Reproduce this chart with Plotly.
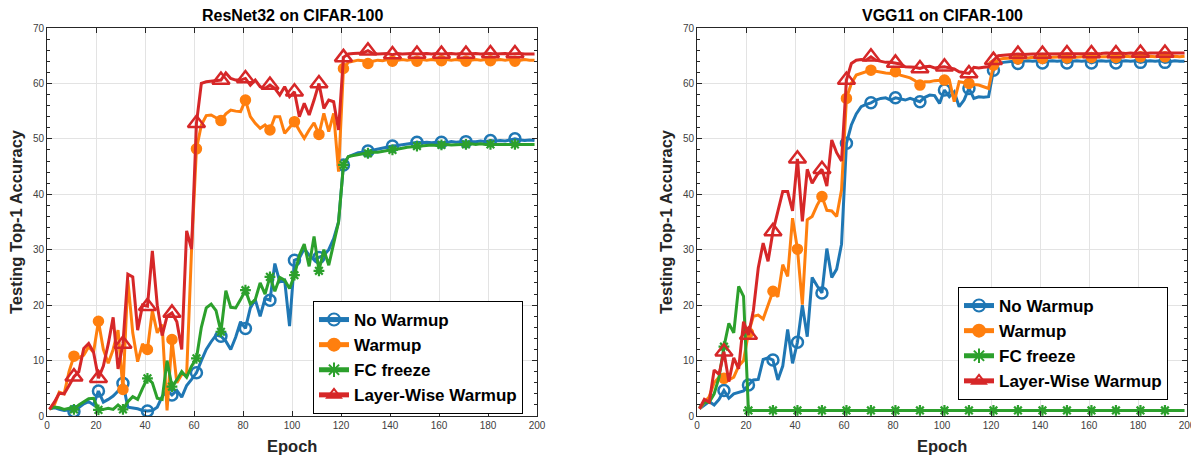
import plotly.graph_objects as go

# ---------------- data (odd epochs 1..199) ----------------
EPOCHS = list(range(1, 200, 2))
SERIES_NAMES = ["No Warmup", "Warmup", "FC freeze", "Layer-Wise Warmup"]
TITLES = ["ResNet32 on CIFAR-100", "VGG11 on CIFAR-100"]
X_TICKS = [0, 20, 40, 60, 80, 100, 120, 140, 160, 180, 200]
Y_TICKS = [0, 10, 20, 30, 40, 50, 60, 70]

# ResNet32
res_no_warmup = [
    1.3, 1.5, 1.2, 1.0, 1.1, 0.8, 1.5, 2.2, 2.6, 2.0,
    4.5, 2.5, 3.0, 3.6, 4.5, 5.9, 1.6, 1.5, 1.3, 1.0,
    0.9, 1.0, 1.6, 3.5, 4.6, 3.8, 4.6, 3.4, 5.5, 6.6,
    7.8, 10.0, 12.0, 13.4, 14.6, 14.4, 13.5, 12.0, 14.2, 17.0,
    15.8, 19.5, 21.0, 18.0, 21.2, 20.9, 27.5, 24.2, 24.5, 16.2,
    28.1, 28.5, 30.2, 29.0, 28.2, 28.6, 29.0, 30.0, 32.0, 35.0,
    45.3, 46.8, 47.2, 47.5, 47.6, 47.8, 48.0, 48.2, 48.3, 48.5,
    48.7, 48.8, 48.9, 49.1, 49.2, 49.4, 49.3, 49.4, 49.3, 49.4,
    49.4, 49.3, 49.5, 49.4, 49.5, 49.5, 49.4, 49.5, 49.6, 49.5,
    49.7, 49.6, 49.7, 49.6, 49.8, 50.0, 49.8, 49.7, 49.8, 49.7,
]
res_warmup = [
    1.2, 2.0, 4.3, 4.0, 8.0, 10.8, 10.5, 11.0, 12.5, 11.5,
    17.1, 12.0, 9.5, 12.0, 15.5, 4.8, 24.5, 15.0, 9.8, 13.0,
    12.0, 19.0, 15.0, 16.5, 1.0, 13.8, 6.0, 7.5, 7.5, 30.0,
    48.2, 52.5, 54.2, 54.3, 53.8, 53.3, 54.5, 55.2, 55.0, 54.9,
    57.0, 54.0, 52.8, 51.9, 52.5, 51.6, 54.0, 54.0, 51.0, 52.0,
    53.1, 51.5, 50.1, 51.6, 52.9, 50.8, 54.6, 51.3, 54.6, 44.1,
    62.7, 63.8, 64.0, 64.2, 64.1, 63.6, 64.0, 64.2, 64.1, 64.3,
    64.0, 64.2, 64.3, 64.2, 64.3, 64.0, 64.3, 64.2, 64.3, 64.2,
    64.1, 64.3, 64.2, 64.3, 64.2, 64.0, 64.2, 64.3, 64.2, 64.3,
    64.1, 64.2, 64.3, 64.2, 64.3, 64.0, 64.2, 64.3, 64.2, 64.2,
]
res_fc_freeze = [
    1.3, 1.6, 1.5, 1.2, 1.4, 1.2, 2.0, 2.6, 3.1, 3.2,
    1.1, 1.2, 1.4, 1.2, 2.0, 1.2, 2.6, 3.5, 3.0, 5.0,
    6.8, 6.0, 3.2, 3.0, 10.0, 5.3, 6.5, 8.0, 7.0, 9.0,
    10.4, 16.0, 19.5, 20.2, 19.0, 15.2, 22.6, 19.6, 19.5, 21.0,
    22.7, 20.2, 21.0, 24.0, 22.0, 25.1, 22.5, 25.0, 24.5, 23.0,
    25.4, 29.0, 31.0, 27.0, 32.4, 26.2, 30.0, 27.2, 31.0, 35.0,
    45.3, 46.8, 47.0, 47.2, 47.3, 47.4, 47.6, 47.6, 47.8, 47.9,
    48.0, 48.1, 48.3, 48.5, 48.6, 48.7, 48.8, 48.8, 48.9, 48.8,
    48.9, 49.0, 48.9, 49.0, 49.0, 49.0, 49.1, 49.0, 49.1, 49.0,
    49.0, 49.1, 49.0, 49.1, 49.1, 49.0, 49.1, 49.0, 49.1, 49.0,
]
res_layerwise = [
    1.2, 2.5, 4.1, 4.0, 5.5, 7.1, 8.0, 12.2, 13.1, 11.5,
    6.8, 9.0, 13.0, 17.8, 8.5, 13.0, 25.6, 25.1, 15.5, 20.0,
    19.8, 29.8, 20.0, 14.5, 18.0, 18.6, 17.0, 12.0, 33.4, 30.1,
    52.8, 60.0, 60.3, 60.4, 60.6, 60.6, 61.9, 60.9, 60.6, 60.6,
    60.9, 59.7, 60.6, 59.4, 59.1, 59.7, 59.1, 57.9, 59.4, 57.6,
    58.5, 54.0, 56.4, 54.3, 57.0, 60.0, 55.5, 57.0, 56.7, 51.6,
    64.7, 65.3, 65.4, 65.4, 65.5, 65.9, 65.4, 65.3, 65.4, 65.4,
    65.2, 65.4, 65.3, 65.4, 65.4, 65.3, 65.4, 65.4, 65.3, 65.4,
    65.3, 65.4, 65.4, 65.3, 65.4, 65.3, 65.4, 65.4, 65.3, 65.4,
    65.4, 65.3, 65.4, 65.4, 65.3, 65.4, 65.4, 65.3, 65.3, 65.3,
]

# VGG11
vgg_no_warmup = [
    1.3, 2.0, 2.6, 2.0, 3.0, 4.6, 3.2, 4.0, 4.2, 4.5,
    5.6, 6.5, 6.6, 10.2, 10.5, 10.1, 6.5, 9.0, 15.6, 9.5,
    13.3, 20.0, 14.3, 25.0, 23.5, 22.2, 30.2, 25.0, 26.5, 31.0,
    49.2, 52.5, 54.5, 55.8, 56.2, 56.5, 57.0, 57.3, 57.4, 57.0,
    57.4, 57.2, 57.0, 57.3, 57.0, 56.7, 57.5, 57.9, 57.8, 56.4,
    58.8, 57.6, 58.5, 55.8, 57.0, 59.1, 57.3, 57.6, 57.5, 57.6,
    62.4, 63.5, 63.8, 63.9, 64.0, 63.6, 64.0, 64.1, 64.0, 64.1,
    63.7, 64.0, 64.1, 64.0, 64.1, 63.7, 64.0, 64.1, 64.0, 64.1,
    63.7, 64.0, 64.1, 64.0, 64.1, 63.7, 64.0, 64.1, 64.0, 64.1,
    63.8, 64.0, 64.1, 64.0, 64.1, 63.8, 64.0, 64.1, 64.0, 64.0,
]
vgg_warmup = [
    1.3, 2.5, 3.5, 6.0, 7.0, 6.8, 6.5, 7.0, 9.0, 10.0,
    15.0, 18.0, 18.2, 17.5, 20.0, 22.5, 21.5, 27.3, 25.2, 35.7,
    30.1, 20.1, 35.4, 36.0, 38.0, 39.6, 37.1, 37.0, 36.0, 40.8,
    57.3, 60.0, 61.5, 61.8, 62.0, 62.4, 62.2, 62.0, 61.9, 61.8,
    62.1, 61.5, 61.2, 61.0, 60.5, 59.7, 60.3, 60.3, 60.5, 60.6,
    60.6, 60.6, 56.7, 60.3, 60.2, 60.0, 59.8, 59.7, 59.4, 59.1,
    63.3, 64.3, 64.5, 64.5, 64.6, 64.4, 64.6, 64.6, 64.7, 64.6,
    64.5, 64.7, 64.7, 64.7, 64.8, 64.6, 64.7, 64.8, 64.8, 64.8,
    64.7, 64.8, 64.8, 64.9, 64.8, 64.7, 64.8, 64.9, 64.8, 64.9,
    64.8, 64.9, 64.9, 64.8, 64.9, 64.8, 64.9, 64.9, 64.8, 64.9,
]
vgg_fc_freeze = [
    1.5, 2.5, 2.5, 4.0, 7.0, 12.5, 16.7, 15.0, 23.4, 21.6,
    1.0, 1.0, 1.0, 1.0, 1.0, 1.0, 1.0, 1.0, 1.0, 1.0,
    1.0, 1.0, 1.0, 1.0, 1.0, 1.0, 1.0, 1.0, 1.0, 1.0,
    1.0, 1.0, 1.0, 1.0, 1.0, 1.0, 1.0, 1.0, 1.0, 1.0,
    1.0, 1.0, 1.0, 1.0, 1.0, 1.0, 1.0, 1.0, 1.0, 1.0,
    1.0, 1.0, 1.0, 1.0, 1.0, 1.0, 1.0, 1.0, 1.0, 1.0,
    1.0, 1.0, 1.0, 1.0, 1.0, 1.0, 1.0, 1.0, 1.0, 1.0,
    1.0, 1.0, 1.0, 1.0, 1.0, 1.0, 1.0, 1.0, 1.0, 1.0,
    1.0, 1.0, 1.0, 1.0, 1.0, 1.0, 1.0, 1.0, 1.0, 1.0,
    1.0, 1.0, 1.0, 1.0, 1.0, 1.0, 1.0, 1.0, 1.0, 1.0,
]
vgg_layerwise = [
    1.3, 3.0, 2.5, 8.3, 7.5, 11.6, 6.2, 10.5, 8.5, 17.0,
    14.6, 19.0, 26.7, 31.2, 27.9, 33.3, 36.9, 40.5, 40.5, 37.0,
    46.4, 35.1, 44.5, 42.0, 43.5, 44.5, 41.5, 49.8, 47.5, 46.0,
    60.6, 63.6, 64.2, 64.3, 64.2, 64.8, 64.2, 64.0, 63.8, 63.8,
    63.7, 63.5, 63.0, 63.0, 62.9, 62.7, 63.0, 63.1, 62.8, 62.9,
    63.0, 62.8, 62.6, 62.1, 62.0, 61.8, 62.9, 62.8, 62.9, 63.0,
    64.2, 65.0, 65.1, 65.2, 65.2, 65.3, 65.2, 65.3, 65.3, 65.3,
    65.3, 65.3, 65.4, 65.3, 65.4, 65.4, 65.3, 65.4, 65.4, 65.4,
    65.4, 65.4, 65.4, 65.5, 65.4, 65.4, 65.5, 65.4, 65.5, 65.4,
    65.5, 65.4, 65.5, 65.5, 65.4, 65.5, 65.5, 65.4, 65.5, 65.5,
]

RESNET = [res_no_warmup, res_warmup, res_fc_freeze, res_layerwise]
VGG = [vgg_no_warmup, vgg_warmup, vgg_fc_freeze, vgg_layerwise]

# ---------------- styling ----------------
FONT = "Liberation Sans, Arial, Helvetica, sans-serif"
COLORS = ["#1f77b4", "#ff7f0e", "#2ca02c", "#d62728"]
SYMBOLS = ["circle-open", "circle", "asterisk-open", "triangle-up-open"]
MSIZES = [11, 10, 9, 15]
MLW = [2.5, 1.5, 2.2, 2.5]

# page body has an 8px margin; figure is sized so the page matches 1199x459
OFF = 8
W, H = 1199 - OFF, 459 - OFF


def px(x):
    return (x - OFF) / W


def py(y):
    return 1 - (y - OFF) / H


XDOM = [[px(47), px(537)], [px(697), px(1187)]]
YDOM = [py(416), py(28)]

marker_on = [(e % 10 == 1 and e >= 11) for e in EPOCHS]

fig = go.Figure()
for p, dataset in enumerate([RESNET, VGG]):
    xa = "x" if p == 0 else "x2"
    ya = "y" if p == 0 else "y2"
    leg = "legend" if p == 0 else "legend2"
    for k, vals in enumerate(dataset):
        sizes = [MSIZES[k] if m else 0 for m in marker_on]
        fig.add_trace(go.Scatter(
            x=EPOCHS, y=vals, name=SERIES_NAMES[k], mode="lines+markers",
            xaxis=xa, yaxis=ya, legend=leg,
            line=dict(color=COLORS[k], width=3),
            marker=dict(symbol=SYMBOLS[k], size=sizes, color=COLORS[k], opacity=1,
                        line=dict(color=COLORS[k], width=MLW[k])),
            hoverinfo="x+y+name",
        ))

axis_common = dict(
    showline=True, linecolor="#262626", linewidth=1, mirror="allticks",
    ticks="inside", ticklen=5, tickcolor="#262626", tickwidth=1,
    showgrid=True, gridcolor="#e3e3e3", gridwidth=1, zeroline=False,
    automargin=False,
    tickfont=dict(family=FONT, size=10, color="#404040"),
)

layout = dict(
    width=W, height=H, margin=dict(l=0, r=0, t=0, b=0, autoexpand=False),
    paper_bgcolor="white", plot_bgcolor="white",
    font=dict(family=FONT, color="#000"),
    showlegend=True,
)
for p in range(2):
    sx = "" if p == 0 else "2"
    layout["xaxis" + sx] = dict(axis_common, domain=XDOM[p], range=[0, 200],
                                tickvals=X_TICKS, anchor="y" + sx)
    layout["yaxis" + sx] = dict(axis_common, domain=YDOM, range=[0, 70],
                                tickvals=Y_TICKS, anchor="x" + sx,
                                minor=dict(dtick=2, ticks="inside", ticklen=3,
                                           tickcolor="#262626", showgrid=False))

legend_common = dict(
    bgcolor="white", bordercolor="#000", borderwidth=1,
    font=dict(family=FONT, size=17, color="#000", weight="bold"),
    itemsizing="constant", itemwidth=30, tracegroupgap=0,
    xanchor="left", yanchor="top", xref="paper", yref="paper",
)
layout["legend"] = dict(legend_common, x=px(313), y=py(301))
layout["legend2"] = dict(legend_common, x=px(958), y=py(287))

fig.update_layout(**layout)

annots = []
for p in range(2):
    cx = (XDOM[p][0] + XDOM[p][1]) / 2
    annots.append(dict(text=TITLES[p], x=cx, y=py(26), xref="paper", yref="paper",
                       showarrow=False, xanchor="center", yanchor="bottom",
                       font=dict(family=FONT, size=16, color="#000", weight="bold")))
    annots.append(dict(text="Epoch", x=cx, y=py(446), xref="paper", yref="paper",
                       showarrow=False, xanchor="center", yanchor="middle",
                       font=dict(family=FONT, size=16.5, color="#262626", weight="bold")))
    ylx = px(16) if p == 0 else px(666)
    annots.append(dict(text="Testing Top-1 Accuracy", x=ylx, y=py(222),
                       xref="paper", yref="paper", textangle=-90,
                       showarrow=False, xanchor="center", yanchor="middle",
                       font=dict(family=FONT, size=16.5, color="#262626", weight="bold")))
fig.update_layout(annotations=annots)

fig.write_html("out.html")
